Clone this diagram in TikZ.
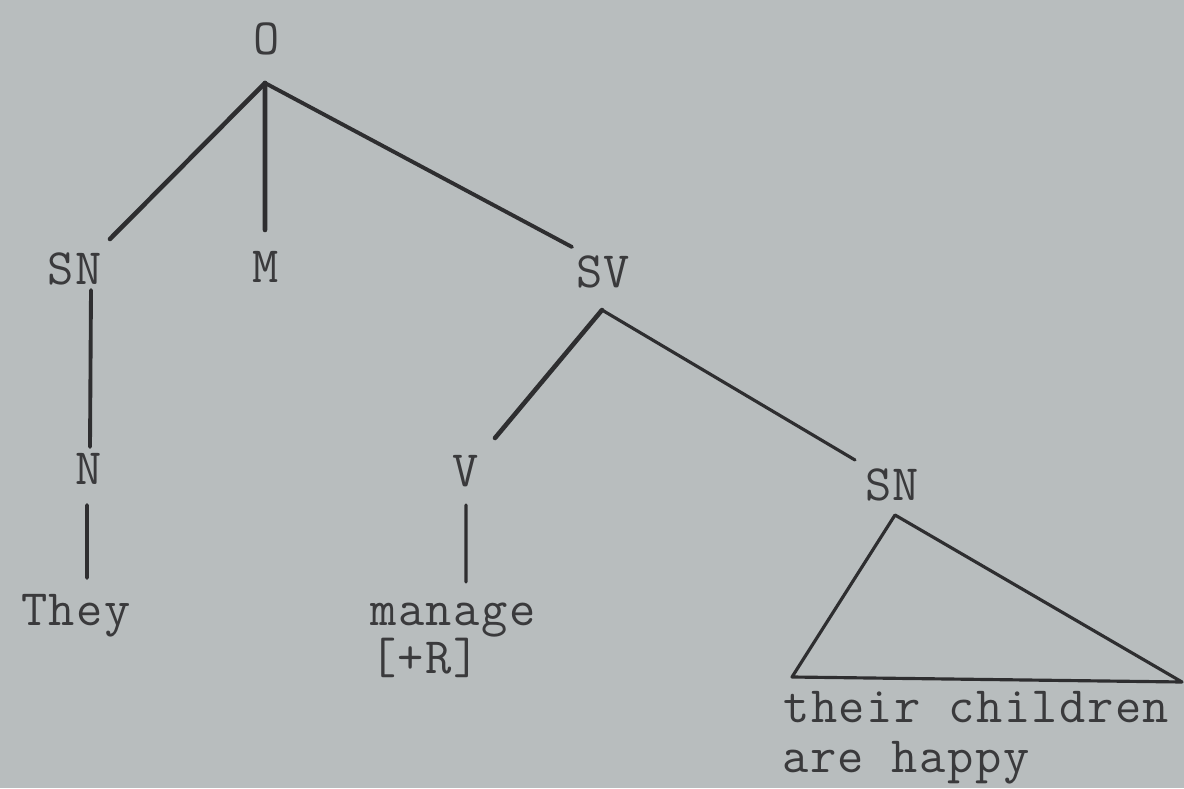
\documentclass[tikz,border=0pt]{standalone}
\usepackage{fontspec}
\setmonofont{Latin Modern Mono}[LetterSpace=3]
\usetikzlibrary{positioning}

\definecolor{paper}{RGB}{184,189,190}
\definecolor{ink}{RGB}{46,46,48}
\definecolor{typed}{RGB}{58,58,60}

\begin{document}
\begin{tikzpicture}[
    font=\ttfamily\fontsize{29}{33}\selectfont,
    % Styles
    cat/.style={text=typed, anchor=base, inner sep=0pt},
    word/.style={text=typed, anchor=base, inner sep=0pt},
    branch/.style={draw=ink, line width=2.6pt, line cap=round},
    twig/.style={draw=ink, line width=1.8pt, line cap=round, line join=round}
]

    % sheet
    \fill[paper] (0,0) rectangle (23.68,15.76);
    \useasboundingbox (0,0) rectangle (23.68,15.76);

    % --- Top: sentence ---
    \node[cat] (O) at (5.34,14.66) {O};

    % --- Row 1: constituents ---
    \node[cat] (sn) at (1.50,10.06) {SN};
    \node[cat] (m)  at (5.32,10.10) {M};
    \node[cat] (sv) at (12.06,10.00) {SV};

    % --- Row 2: heads ---
    \node[cat] (n)   at (1.78,6.06) {N};
    \node[cat] (v)   at (9.32,6.02) {V};
    \node[cat] (obj) at (17.84,5.76) {SN};

    % --- Row 3: words ---
    \node[word] (they)   at (1.52,3.26) {They};
    \node[word] (manage) at (9.06,3.26) {manage};
    \node[word] (feat)   at (8.50,2.30) {[+R]};
    \node[word, anchor=base west] (clause1) at (15.66,1.32) {their children};
    \node[word, anchor=base west] (clause2) at (15.64,0.32) {are happy};

    % triangle corners
    \coordinate (triL) at (15.84,2.22);
    \coordinate (triR) at (23.64,2.12);

    % --- Connections ---
    \draw[branch] ([shift={(-0.04,-0.56)}]O.base) -- ([shift={(0.70,0.92)}]sn.base);
    \draw[branch] ([shift={(-0.04,-0.56)}]O.base) -- ([shift={(-0.02,1.06)}]m.base);
    \draw[twig, line width=2.2pt] ([shift={(-0.04,-0.56)}]O.base) -- ([shift={(-0.62,0.82)}]sv.base);

    \draw[twig, line width=2.2pt] ([shift={(0.32,-0.10)}]sn.base) -- ([shift={(0.02,0.76)}]n.base);
    \draw[twig, line width=2.2pt] ([shift={(-0.04,-0.40)}]n.base) -- ([shift={(0.22,0.94)}]they.base);

    \draw[branch] ([shift={(-0.02,-0.44)}]sv.base) -- ([shift={(0.58,0.98)}]v.base);
    \draw[twig] ([shift={(-0.02,-0.44)}]sv.base) -- ([shift={(-0.74,0.80)}]obj.base);

    \draw[twig] ([shift={(0,-0.36)}]v.base) -- ([shift={(0.26,0.86)}]manage.base);

    \draw[twig] ([shift={(0.06,-0.30)}]obj.base) -- (triL) -- (triR) -- cycle;

\end{tikzpicture}
\end{document}
